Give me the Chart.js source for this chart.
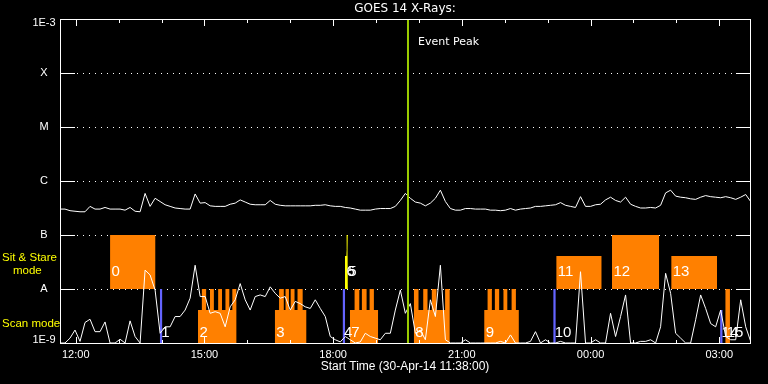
<!DOCTYPE html>
<html>
<head>
<meta charset="utf-8">
<script src="https://cdn.jsdelivr.net/npm/chart.js@4.4.1/dist/chart.umd.min.js"></script>
<style>
  html, body { margin: 0; padding: 0; background: #000; }
  #wrap { width: 768px; height: 384px; }
</style>
</head>
<body>
<div id="wrap"><canvas id="goes" width="768" height="384"></canvas></div>
<script>
// GOES 14 X-ray flux as log10(W/m^2), one sample every 7 min from 11:38
var startHour = 11 + 38 / 60;
var endHour = 27.717;
var stepMinutes = 7;

var fluxLong = [
  -6.52, -6.52, -6.55, -6.56, -6.57, -6.57, -6.47, -6.52, -6.52, -6.49,
  -6.52, -6.52, -6.52, -6.54, -6.49, -6.56, -6.57, -6.23, -6.47, -6.32,
  -6.38, -6.44, -6.47, -6.50, -6.51, -6.52, -6.52, -6.24, -6.41, -6.40,
  -6.46, -6.47, -6.47, -6.47, -6.43, -6.41, -6.35, -6.39, -6.43, -6.44,
  -6.44, -6.44, -6.36, -6.43, -6.45, -6.46, -6.46, -6.46, -6.46, -6.46,
  -6.46, -6.45, -6.45, -6.44, -6.46, -6.47, -6.47, -6.49, -6.50, -6.52,
  -6.54, -6.54, -6.54, -6.52, -6.51, -6.51, -6.51, -6.47, -6.36, -6.23,
  -6.32, -6.39, -6.41, -6.46, -6.41, -6.32, -6.17, -6.38, -6.51, -6.54,
  -6.54, -6.51, -6.51, -6.52, -6.52, -6.52, -6.54, -6.54, -6.55, -6.54,
  -6.51, -6.54, -6.52, -6.51, -6.50, -6.47, -6.47, -6.46, -6.45, -6.44,
  -6.40, -6.45, -6.47, -6.49, -6.29, -6.47, -6.47, -6.44, -6.43, -6.35,
  -6.30, -6.36, -6.39, -6.30, -6.43, -6.47, -6.50, -6.50, -6.49, -6.50,
  -6.45, -6.22, -6.17, -6.28, -6.30, -6.31, -6.33, -6.34, -6.30, -6.27,
  -6.29, -6.30, -6.31, -6.29, -6.31, -6.34, -6.30, -6.25, -6.38
];

var fluxLow = [
  -9, -9, -8.91, -8.76, -8.97, -8.62, -8.56, -8.79, -8.79, -8.61,
  -9, -9, -8.93, -9, -8.59, -8.88, -9, -7.65, -7.74, -8.02,
  -8.82, -8.70, -8.70, -8.51, -8.51, -8.39, -8.17, -7.56, -8.14, -8.14,
  -8.45, -8.42, -8.45, -8.70, -8.33, -8.20, -7.90, -8.20, -8.39, -8.14,
  -8.11, -8.14, -7.96, -8.08, -8.17, -8.14, -8.39, -8.23, -8.27, -8.33,
  -8.36, -8.20, -8.36, -8.51, -8.88, -8.94, -8.98, -8.88, -8.94, -9,
  -8.98, -8.82, -8.88, -8.91, -8.94, -8.82, -8.82, -8.39, -8.02, -8.45,
  -8.27, -8.82, -8.76, -8.94, -8.20, -8.51, -7.56, -8.94, -9, -9,
  -9, -8.94, -9, -9, -9, -9, -9, -9, -8.97, -9,
  -8.85, -9, -9, -9, -8.97, -8.79, -9, -8.94, -9, -9,
  -8.97, -9, -9, -9, -7.68, -9, -9, -8.94, -9, -9,
  -8.45, -8.88, -8.51, -8.11, -9, -9, -8.97, -8.97, -8.94, -9,
  -8.70, -7.71, -8.08, -8.82, -8.91, -9, -9, -8.57, -8.11, -8.36,
  -8.64, -8.70, -8.39, -8.88, -8.94, -8.94, -8.20, -8.70, -8.97
];

var levelValues = [-3, -4, -5, -6, -7, -8, -9];
var levelLabels = ['1E-3', 'X', 'M', 'C', 'B', 'A', '1E-9'];
var hourTicks = [12, 15, 18, 21, 24, 27];

var eventPeak = 19.745;

// sit & stare observations
var sitIds = ['0', '11', '12', '13'];
var sitStart = [12.80, 23.20, 24.50, 25.88];
var sitEnd = [13.86, 24.26, 25.60, 26.95];
var sitTop = [-7, -7.39, -7, -7.39];

// short sit & stare (yellow)
var shortIds = ['5', '6'];
var shortStart = [18.316, 18.276];
var shortEnd = [18.339, 18.33];
var shortTop = [-7, -7.39];

// scan observations: base plateau plus raster steps
var scanIds = ['2', '3', '7', '8', '9', '15'];
var scanStart = [14.85, 16.64, 18.39, 19.88, 21.52, 27.14];
var scanEnd = [15.75, 17.38, 19.05, 20.72, 22.33, 27.25];
var rasterStart = [
  [14.94, 15.13, 15.32, 15.49, 15.65],
  [16.74, 16.89, 17.01, 17.17],
  [18.50, 18.67, 18.85],
  [19.88, 20.10, 20.30, 20.61],
  [21.60, 21.77, 21.97, 22.16],
  [27.14]
];
var rasterEnd = [
  [15.04, 15.22, 15.41, 15.58, 15.75],
  [16.85, 16.97, 17.10, 17.29],
  [18.61, 18.78, 18.95],
  [19.99, 20.20, 20.41, 20.72],
  [21.70, 21.87, 22.06, 22.26],
  [27.25]
];
var scanBase = -8.39;
var rasterTop = -8;

// other observations (blue)
var otherIds = ['1', '4', '10', '14'];
var otherStart = [13.96, 18.22, 23.13, 27.02];
var otherEnd = [14.02, 18.28, 23.19, 27.08];
var otherTop = [-8, -8, -8, -8.39];


function series(values) {
    return values.map(function (v, i) {
        return {x: startHour + i * stepMinutes / 60, y: v};
    });
}

function blocks(starts, ends, tops) {
    var pts = [];
    for (var i = 0; i < starts.length; i++) {
        pts.push({x: starts[i], y: tops[i]});
        pts.push({x: ends[i], y: tops[i]});
        pts.push({x: ends[i], y: null});
    }
    return pts;
}

function scanBlocks() {
    var pts = [];
    for (var i = 0; i < scanStart.length; i++) {
        pts.push({x: scanStart[i], y: scanBase});
        for (var k = 0; k < rasterStart[i].length; k++) {
            pts.push({x: rasterStart[i][k], y: rasterTop});
            pts.push({x: rasterEnd[i][k], y: scanBase});
        }
        pts.push({x: scanEnd[i], y: scanBase});
        pts.push({x: scanEnd[i], y: null});
    }
    return pts;
}

function hhmm(v) {
    return ('0' + (v % 24)).slice(-2) + ':00';
}

// frame, ticks, dotted levels and all the IDL style text
var decor = {
    id: 'decor',
    beforeDraw: function (chart) {
        var c = chart.ctx;
        c.save();
        c.fillStyle = '#000';
        c.fillRect(0, 0, chart.width, chart.height);
        c.restore();
    },
    beforeDatasetsDraw: function (chart) {
        var c = chart.ctx, a = chart.chartArea, ys = chart.scales.y;
        c.save();
        c.strokeStyle = '#fff';
        c.lineWidth = 1;
        c.setLineDash([1, 5]);
        levelValues.forEach(function (v) {
            if (v <= ys.min || v >= ys.max) return;
            var y = Math.round(ys.getPixelForValue(v)) + 0.5;
            c.beginPath();
            c.moveTo(a.left + 17, y);
            c.lineTo(a.right - 15, y);
            c.stroke();
        });
        c.restore();
    },
    afterDatasetsDraw: function (chart) {
        var c = chart.ctx, a = chart.chartArea;
        var xs = chart.scales.x, ys = chart.scales.y;
        c.save();
        c.strokeStyle = '#fff';
        c.lineWidth = 1;
        c.strokeRect(a.left + 0.5, a.top + 0.5, a.right - a.left, a.bottom - a.top);

        c.beginPath();
        levelValues.forEach(function (v) {
            if (v <= ys.min || v >= ys.max) return;
            var y = Math.round(ys.getPixelForValue(v)) + 0.5;
            c.moveTo(a.left, y); c.lineTo(a.left + 15, y);
            c.moveTo(a.right - 14, y); c.lineTo(a.right, y);
        });
        for (var h = Math.ceil(xs.min); h <= xs.max; h++) {
            var x = Math.round(xs.getPixelForValue(h)) + 0.5;
            var len = h % 3 === 0 ? 7 : 4;
            c.moveTo(x, a.top); c.lineTo(x, a.top + len);
            c.moveTo(x, a.bottom + 1); c.lineTo(x, a.bottom + 1 - len);
        }
        c.stroke();

        // y level labels
        c.fillStyle = '#fff';
        c.font = '11px "Liberation Sans"';
        c.textAlign = 'center';
        c.textBaseline = 'middle';
        levelValues.forEach(function (v, i) {
            var y = ys.getPixelForValue(v);
            y = Math.min(Math.max(y, a.top + 4), a.bottom - 3);
            c.fillText(levelLabels[i], 44, y);
        });

        // mode captions
        c.fillStyle = '#ffff00';
        c.font = '11.5px "Liberation Sans"';
        c.textAlign = 'left';
        c.fillText('Sit & Stare', 2, ys.getPixelForValue(-7.426));
        c.fillText('mode', 13, ys.getPixelForValue(-7.667));
        c.fillText('Scan mode', 2, ys.getPixelForValue(-8.648));

        // observation numbers
        c.fillStyle = '#fff';
        c.font = '15px "Liberation Sans"';
        function num(ids, starts, y) {
            ids.forEach(function (id, i) {
                c.fillText(id, xs.getPixelForValue(starts[i]) + 1.5, ys.getPixelForValue(y));
            });
        }
        num(sitIds, sitStart, -7.685);
        num(shortIds, shortStart, -7.685);
        num(scanIds, scanStart, -8.815);
        num(otherIds, otherStart, -8.815);

        c.font = '11px "DejaVu Sans"';
        c.fillText('Event Peak', xs.getPixelForValue(eventPeak) + 10, a.top + 23.5);
        c.restore();
    }
};

Chart.defaults.font.family = '"Liberation Sans"';
Chart.defaults.color = '#fff';

var ctx = document.getElementById('goes').getContext('2d');
var chart = new Chart(ctx, {
    type: 'line',
    data: {
        datasets: [{
            label: 'Event Peak',
            data: [{x: eventPeak, y: -9}, {x: eventPeak, y: -3}],
            borderColor: '#9bcd00',
            borderWidth: 2,
            pointRadius: 0,
            order: 0
        }, {
            label: 'GOES long',
            data: series(fluxLong),
            borderColor: '#ffffff',
            borderWidth: 1,
            pointRadius: 0,
            order: 1
        }, {
            label: 'GOES low',
            data: series(fluxLow),
            borderColor: '#ffffff',
            borderWidth: 1,
            pointRadius: 0,
            order: 1
        }, {
            label: 'Sit & Stare',
            data: blocks(sitStart, sitEnd, sitTop),
            borderWidth: 0,
            borderColor: 'rgba(0,0,0,0)',
            backgroundColor: '#ff8000',
            fill: {value: -8},
            pointRadius: 0,
            order: 2
        }, {
            label: 'Scan',
            data: scanBlocks(),
            stepped: true,
            borderWidth: 0,
            borderColor: 'rgba(0,0,0,0)',
            backgroundColor: '#ff8000',
            fill: {value: -9},
            pointRadius: 0,
            order: 2
        }, {
            label: 'Other',
            data: blocks(otherStart, otherEnd, otherTop),
            borderWidth: 0,
            borderColor: 'rgba(0,0,0,0)',
            backgroundColor: '#6464ff',
            fill: {value: -9},
            pointRadius: 0,
            order: 2
        }, {
            label: 'Short',
            data: blocks(shortStart, shortEnd, shortTop),
            borderWidth: 0,
            borderColor: 'rgba(0,0,0,0)',
            backgroundColor: '#ffff00',
            fill: {value: -8},
            pointRadius: 0,
            order: 2
        }]
    },
    options: {
        responsive: false,
        animation: false,
        events: [],
        layout: {padding: {left: 60, right: 18, top: 0, bottom: 0}},
        plugins: {
            legend: {display: false},
            tooltip: {enabled: false},
            title: {
                display: true,
                fullSize: false,
                text: 'GOES 14 X-Rays:',
                color: '#fff',
                font: {family: '"DejaVu Sans"', size: 12, weight: 'normal'},
                padding: {top: 2, bottom: 2.6}
            }
        },
        scales: {
            x: {
                type: 'linear',
                min: startHour,
                max: endHour,
                afterBuildTicks: function (s) {
                    s.ticks = hourTicks.map(function (v) { return {value: v}; });
                },
                afterFit: function (s) { s.height = 41; },
                ticks: {
                    color: '#fff',
                    font: {size: 11},
                    padding: 5,
                    maxRotation: 0,
                    autoSkip: false,
                    callback: function (v) { return hhmm(v); }
                },
                grid: {display: false, drawTicks: false},
                border: {display: false},
                title: {
                    display: true,
                    text: 'Start Time (30-Apr-14 11:38:00)',
                    color: '#fff',
                    font: {size: 12},
                    padding: {top: 0, bottom: 10}
                }
            },
            y: {
                type: 'linear',
                min: -9,
                max: -3,
                display: false
            }
        }
    },
    plugins: [decor]
});
</script>
</body>
</html>
